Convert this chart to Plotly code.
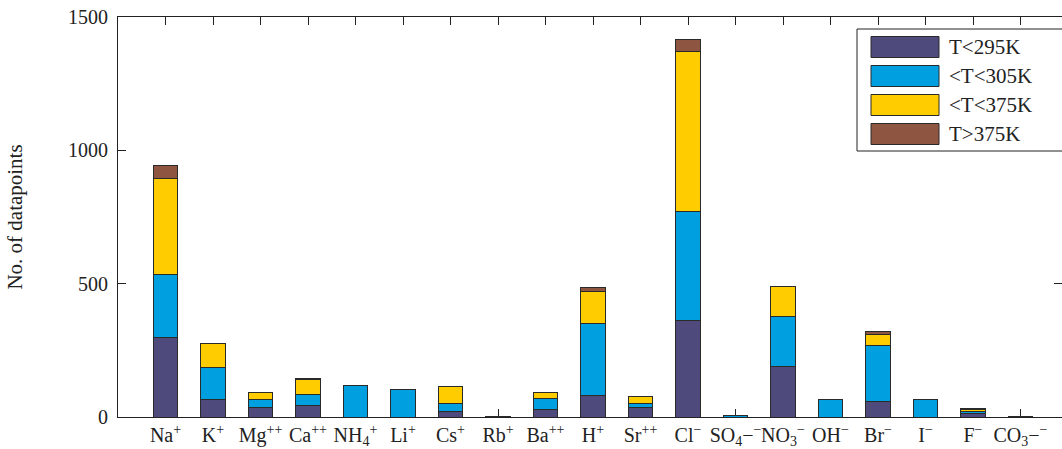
import plotly.graph_objects as go

categories = ["Na<sup>+</sup>", "K<sup>+</sup>", "Mg<sup>++</sup>", "Ca<sup>++</sup>",
              "NH<sub>4</sub><sup>+</sup>", "Li<sup>+</sup>", "Cs<sup>+</sup>", "Rb<sup>+</sup>",
              "Ba<sup>++</sup>", "H<sup>+</sup>", "Sr<sup>++</sup>", "Cl<sup>−</sup>",
              "SO<sub>4</sub>−<sup>−</sup>", "NO<sub>3</sub><sup>−</sup>", "OH<sup>−</sup>",
              "Br<sup>−</sup>", "I<sup>−</sup>", "F<sup>−</sup>", "CO<sub>3</sub>−<sup>−</sup>"]

t_below_295 = [300, 67, 36, 45, 0, 0, 21, 0, 29, 79, 37, 361, 0, 191, 0, 60, 0, 12, 0]
t_295_305 = [236, 120, 30, 41, 120, 102, 30, 2, 41, 270, 12, 408, 6, 186, 64, 207, 66, 8, 1]
t_305_375 = [360, 87, 26, 56, 0, 0, 65, 0, 22, 123, 27, 600, 0, 114, 0, 43, 0, 8, 0]
t_above_375 = [49, 0, 0, 2, 0, 0, 0, 0, 0, 15, 0, 48, 0, 0, 0, 9, 0, 3, 0]

series_names = ["T&lt;295K", "&lt;T&lt;305K", "&lt;T&lt;375K", "T&gt;375K"]
series_values = [t_below_295, t_295_305, t_305_375, t_above_375]
colors = ["#4E4A7B", "#009FDF", "#FFCC00", "#8E5541"]

FONT = "Liberation Serif"
FS_TICK = 20
FS_TEXT = 21
W, H = 1062, 449
L, R, T, B = 118, 0, 17, 32

x_idx = list(range(len(categories)))

fig = go.Figure()
for name, vals, c in zip(series_names, series_values, colors):
    fig.add_trace(go.Bar(
        x=x_idx, y=vals, name=name, width=0.51,
        marker=dict(color=c, line=dict(color="#2a2a2a", width=1)),
        showlegend=False,
    ))

fig.update_layout(
    barmode="stack",
    width=W, height=H,
    margin=dict(l=L, r=R, t=T, b=B, pad=0, autoexpand=False),
    paper_bgcolor="white", plot_bgcolor="white",
    font=dict(family=FONT, size=FS_TEXT, color="#222"),
)
fig.update_xaxes(
    range=[-1, -1 + (W - L - R) / 47.5],
    tickmode="array", tickvals=x_idx, ticktext=categories, tickangle=0,
    ticks="inside", ticklen=8, tickcolor="#222", tickwidth=1,
    showline=True, linecolor="#222", linewidth=1, mirror="ticks",
    showgrid=False, zeroline=False, layer="below traces", automargin=False,
    tickfont=dict(family=FONT, size=FS_TICK, color="#222"),
)
fig.update_yaxes(
    range=[0, 1500], tickvals=[0, 500, 1000, 1500],
    ticks="inside", ticklen=8, tickcolor="#222", tickwidth=1, ticklabelstandoff=5,
    showline=True, linecolor="#222", linewidth=1, mirror="ticks",
    showgrid=False, zeroline=False, automargin=False,
    title=dict(text="No. of datapoints", standoff=39, font=dict(family=FONT, size=FS_TEXT, color="#222")),
    tickfont=dict(family=FONT, size=FS_TICK, color="#222"),
)

# manual legend (to get the large swatches of the reference)
pw, ph = W - L - R, H - T - B
def px(x):
    return (x - L) / pw
def py(y):
    return (H - B - y) / ph

fig.add_shape(type="rect", xref="paper", yref="paper",
              x0=px(857), x1=px(1068), y0=py(151), y1=py(29),
              line=dict(color="#222", width=1), fillcolor="white", layer="above")
for i, (name, c) in enumerate(zip(series_names, colors)):
    yc = 47 + 29 * i
    fig.add_shape(type="rect", xref="paper", yref="paper",
                  x0=px(871), x1=px(939), y0=py(yc + 10.5), y1=py(yc - 10.5),
                  line=dict(color="#2a2a2a", width=1), fillcolor=c, layer="above")
    fig.add_annotation(xref="paper", yref="paper", x=px(947), y=py(yc),
                       text=name, showarrow=False, xanchor="left", yanchor="middle",
                       font=dict(family=FONT, size=FS_TEXT, color="#222"))

fig.write_html(
    "out.html",
    config={"displayModeBar": False},
    post_script="document.body.style.margin='0';document.body.style.overflow='hidden';",
)
